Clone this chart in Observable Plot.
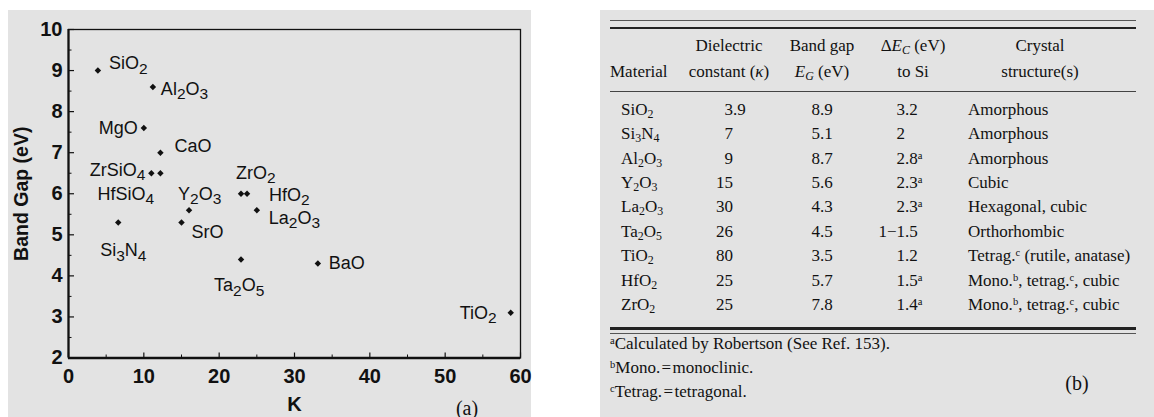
<!DOCTYPE html>
<html><head><meta charset="utf-8">
<script src="https://cdn.jsdelivr.net/npm/d3@7"></script>
<script src="https://cdn.jsdelivr.net/npm/@observablehq/plot@0.6"></script>
<style>
html,body{margin:0;padding:0;background:#fff;width:1154px;height:417px;overflow:hidden;}
#a{position:absolute;left:8px;top:10px;width:523px;height:407px;}
#alabel{position:absolute;left:447px;top:395px;width:40px;text-align:center;font-family:'Liberation Serif','Times New Roman',serif;font-size:20px;line-height:26px;color:#111;}
#b{position:absolute;left:600px;top:10px;width:554px;height:407px;background:#e3e3e3;color:#111;font-family:'Liberation Serif','Times New Roman',serif;}
.rule{position:absolute;left:10px;width:526px;background:#222;}
#tbl{position:absolute;left:10px;top:23px;width:526px;border-collapse:collapse;table-layout:fixed;font-size:17px;}
#tbl td{padding:0;white-space:nowrap;}
#tbl tr.h td{height:26px;line-height:26px;text-align:center;}
#tbl tr.sp td{height:12.8px;line-height:0;font-size:0;}
#tbl tr.r td{height:24.4px;line-height:24.4px;}
#tbl sub{font-size:70%;vertical-align:-0.28em;line-height:0;}
#b sup{font-size:62%;vertical-align:0.5em;line-height:0;}
.ib{display:inline-block;}
#foot{position:absolute;left:10px;top:322px;font-size:17px;line-height:24px;}
#blabel{position:absolute;left:457px;top:360px;width:40px;text-align:center;font-size:20px;line-height:26px;}
</style></head><body>
<div id="a"></div>
<div id="alabel">(a)</div>
<div id="b">
  <div class="rule" style="top:10px;height:1px;background:#555"></div>
  <div class="rule" style="top:16.5px;height:2px"></div>
  <div class="rule" style="top:81px;height:1px;background:#444"></div>
  <div class="rule" style="top:317px;height:2.5px"></div>
  <div class="rule" style="top:323px;height:1px;background:#555"></div>
  <table id="tbl"><colgroup><col style="width:72px"><col style="width:94px"><col style="width:92px"><col style="width:90px"><col style="width:178px"></colgroup><tbody id="tb"></tbody></table>
  <div id="foot"></div>
  <div id="blabel">(b)</div>
</div>
<script>
// ---- Panel (a) data: band gap vs dielectric constant K ----
const compounds = ["SiO2","Al2O3","MgO","CaO","ZrSiO4","HfSiO4","Y2O3","SrO","Si3N4","ZrO2","HfO2","La2O3","Ta2O5","BaO","TiO2"];
const kappa =     [3.9,   11.2,   10.0,  12.2,  11.0,    12.2,    16.0,  15.0,  6.6,    22.9,  23.7,  25.0,   22.9,   33.1,  58.7];
const bandGapEV = [9.0,   8.6,    7.6,   7.0,   6.5,     6.5,     5.6,   5.3,   5.3,    6.0,   6.0,   5.6,    4.4,    4.3,   3.1];
const xTicks = [0, 10, 20, 30, 40, 50, 60];
const xMinor = [5, 15, 25, 35, 45, 55];
const yTicks = [2, 3, 4, 5, 6, 7, 8, 9, 10];
const yMinor = [2.5, 3.5, 4.5, 5.5, 6.5, 7.5, 8.5, 9.5];

// ---- Panel (b) data: table ----
const headerLine1 = ["", "Dielectric", "Band gap", "Δ<i>E</i><sub><i>C</i></sub> (eV)", "Crystal"];
const headerLine2 = ["Material", "constant (<i>κ</i>)", "<i>E</i><sub><i>G</i></sub> (eV)", "to Si", "structure(s)"];
const materials = ["SiO2","Si3N4","Al2O3","Y2O3","La2O3","Ta2O5","TiO2","HfO2","ZrO2"];
const dielectric = ["3.9","7","9","15","30","26","80","25","25"];
const bandGap = ["8.9","5.1","8.7","5.6","4.3","4.5","3.5","5.7","7.8"];
const deltaEc = ["3.2","2","2.8","2.3","2.3","1−1.5","1.2","1.5","1.4"];
const deltaNote = ["","","a","a","a","","","a","a"];
const crystal = ["Amorphous","Amorphous","Amorphous","Cubic","Hexagonal, cubic","Orthorhombic","Tetrag.^c (rutile, anatase)","Mono.^b, tetrag.^c, cubic","Mono.^b, tetrag.^c, cubic"];
const footnotes = ["^aCalculated by Robertson (See Ref. 153).", "^bMono.\u200A=\u200Amonoclinic.", "^cTetrag.\u200A=\u200Atetragonal."];

// ---- label layout (anchor, dx px, dy px) ----
const labelLayout = {
  SiO2:["start",11,-7], Al2O3:["start",8,2], MgO:["end",-6,0], CaO:["start",14,-6],
  ZrSiO4:["end",-6,-3], HfSiO4:["start",-63,21], Y2O3:["start",-11,-16], SrO:["start",10,10],
  Si3N4:["start",-18,28], ZrO2:["start",-5,-21], HfO2:["start",22,1], La2O3:["start",12,8],
  Ta2O5:["start",-27,26], BaO:["start",11,0], TiO2:["end",-14,0]
};

const W = 523, H = 407, mL = 60, mR = 11, mT = 19, mB = 59.5;
const innerW = W - mL - mR, innerH = H - mT - mB;
const pts = compounds.map((c, i) => ({name: c, k: kappa[i], eg: bandGapEV[i]}));
const ink = "#111";

const plot = Plot.plot({
  width: W, height: H,
  marginLeft: mL, marginRight: mR, marginTop: mT, marginBottom: mB,
  style: {fontFamily: "'Liberation Sans', Arial, sans-serif", background: "#e3e3e3", color: ink, overflow: "visible"},
  x: {domain: [0, 60], label: null},
  y: {domain: [2, 10], label: null},
  marks: [
    Plot.frame({stroke: ink, strokeWidth: 1.3}),
    Plot.ruleX([0], {stroke: ink, strokeWidth: 2.2}),
    Plot.ruleY([2], {stroke: ink, strokeWidth: 2.4}),
    Plot.tickY(yTicks, {y: d => d, insetRight: innerW - 6, stroke: ink, strokeWidth: 1.2}),
    Plot.tickY(yMinor, {y: d => d, insetRight: innerW - 3.5, stroke: ink, strokeWidth: 1}),
    Plot.tickX(xTicks, {x: d => d, insetTop: innerH - 5, stroke: ink, strokeWidth: 1.2}),
    Plot.tickX(xMinor, {x: d => d, insetTop: innerH - 3, stroke: ink, strokeWidth: 1}),
    Plot.axisY(yTicks, {tickSize: 0, tickPadding: 6, fontSize: 20, fontWeight: "bold", fill: ink, label: null}),
    Plot.axisX(xTicks, {tickSize: 0, tickPadding: 10.5, fontSize: 20, fontWeight: "bold", fill: ink, label: null}),
    Plot.text(["Band Gap (eV)"], {frameAnchor: "left", textAnchor: "middle", lineAnchor: "middle", rotate: -90, dx: -47, fontSize: 19.5, fontWeight: "bold", fill: ink}),
    Plot.text(["K"], {frameAnchor: "bottom", textAnchor: "middle", lineAnchor: "middle", dy: 47, fontSize: 20, fontWeight: "bold", fill: ink}),
    Plot.dot(pts, {x: "k", y: "eg", symbol: "diamond2", r: 2.9, fill: ink, stroke: "none"}),
    ...pts.map(p => {
      const [a, dx, dy] = labelLayout[p.name];
      return Plot.text([p], {x: "k", y: "eg", text: "name", textAnchor: a, dx, dy, fontSize: 18, fill: ink});
    })
  ]
});
document.getElementById("a").appendChild(plot);

// subscript digits in compound labels
const NS = "http://www.w3.org/2000/svg";
plot.querySelectorAll('g[aria-label="text"] text').forEach(t => {
  const s = t.textContent;
  if (!/\d/.test(s)) return;
  while (t.firstChild) t.removeChild(t.firstChild);
  let down = false;
  for (const part of s.match(/\d+|\D+/g)) {
    const ts = document.createElementNS(NS, "tspan");
    if (/^\d+$/.test(part)) { ts.setAttribute("dy", down ? "0" : "4.5"); ts.setAttribute("font-size", "15.5"); down = true; }
    else if (down) { ts.setAttribute("dy", "-4.5"); down = false; }
    ts.textContent = part;
    t.appendChild(ts);
  }
});

// ---- table ----
const chem = s => s.replace(/(\d+)/g, "<sub>$1</sub>");
const sup = s => s.replace(/\^(\w)/g, "<sup>$1</sup>");
const split = v => { const i = v.lastIndexOf("."); return i < 0 ? [v, ""] : [v.slice(0, i), v.slice(i)]; };
let html = "";
html += "<tr class='h'>" + headerLine1.map((h, i) => `<td style="${i===4?'padding-right:14px':''}">${h}</td>`).join("") + "</tr>";
html += "<tr class='h'>" + headerLine2.map((h, i) => `<td style="${i===0?'text-align:left':''}${i===4?'padding-right:14px':''}">${h}</td>`).join("") + "</tr>";
html += "<tr class='sp'><td></td><td></td><td></td><td></td><td></td></tr>";
materials.forEach((m, i) => {
  const [di, df] = split(dielectric[i]);
  const [ei, ef] = split(deltaEc[i]);
  html += "<tr class='r'>" +
    `<td style="padding-left:11px">${chem(m)}</td>` +
    `<td style="padding-left:21px"><span class="ib" style="width:30px;text-align:right">${di}</span><span>${df}</span></td>` +
    `<td style="text-align:center">${bandGap[i]}</td>` +
    `<td style="padding-left:7px"><span class="ib" style="width:30px;text-align:right">${ei}</span><span>${ef}${deltaNote[i] ? "<sup>" + deltaNote[i] + "</sup>" : ""}</span></td>` +
    `<td style="padding-left:10px">${sup(crystal[i])}</td>` +
    "</tr>";
});
document.getElementById("tb").innerHTML = html;
document.getElementById("foot").innerHTML = footnotes.map(f => `<div>${sup(f)}</div>`).join("");
</script>
</body></html>
